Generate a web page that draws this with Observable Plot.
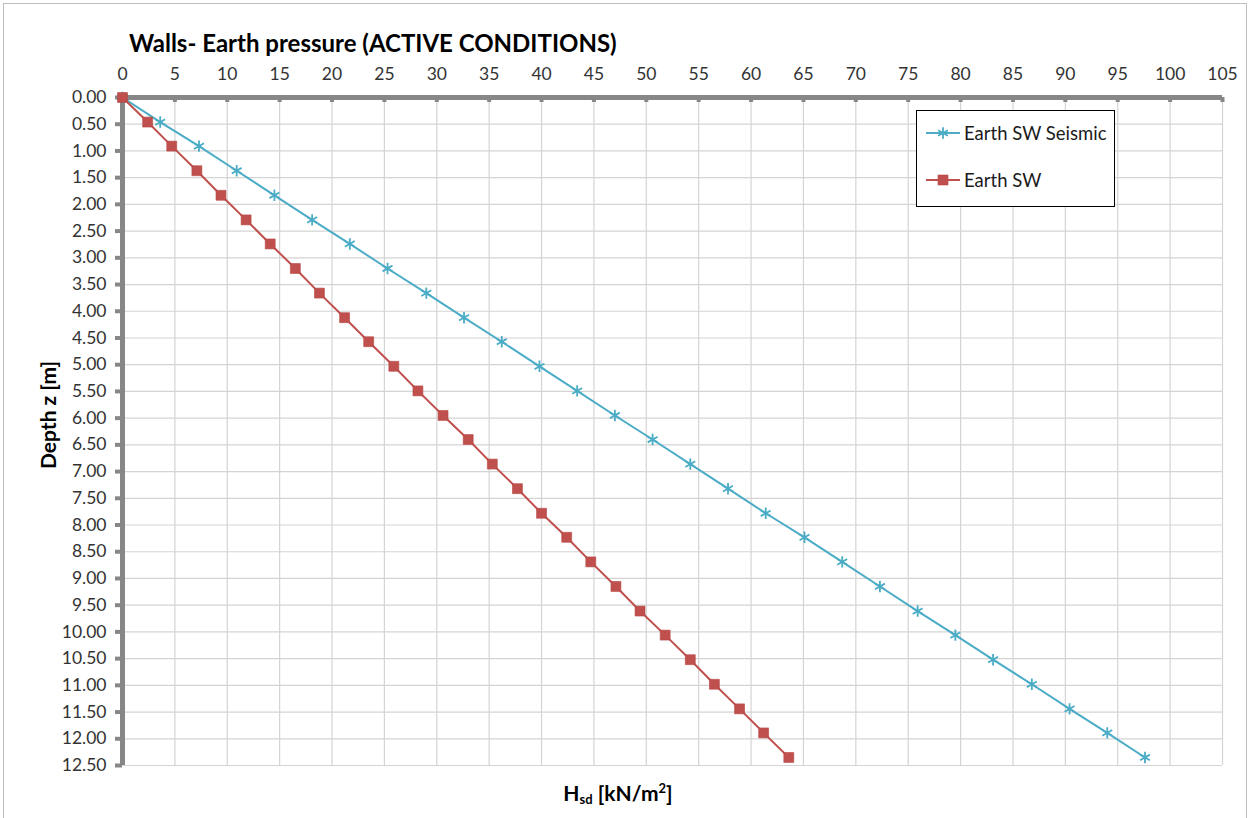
<!DOCTYPE html>
<html>
<head>
<meta charset="utf-8">
<script src="https://cdn.jsdelivr.net/npm/d3@7"></script>
<script src="https://cdn.jsdelivr.net/npm/@observablehq/plot@0.6"></script>
<style>
  body { margin: 0; background: #fff; }
  #wrap { position: relative; width: 1250px; height: 818px; overflow: hidden; font-family: Lato, "Open Sans", sans-serif; }
  #frame { position: absolute; left: 3px; top: 3px; width: 1244px; height: 840px; border: 1.5px solid #bdbdbd; box-sizing: border-box; }
  #chart { position: absolute; left: 0; top: 0; }
  #title { position: absolute; left: 129px; top: 28px; font-size: 24px; font-weight: bold; color: #000; white-space: nowrap; }
  #ylabel { position: absolute; left: 47px; top: 415px; transform: translate(-50%, -50%) rotate(-90deg); font-size: 21px; font-weight: bold; color: #000; white-space: nowrap; }
  #xlabel { position: absolute; left: 618px; top: 793px; transform: translate(-50%, -50%); font-size: 21px; font-weight: bold; color: #000; white-space: nowrap; }
  #xlabel sub { font-size: 13px; vertical-align: -3px; }
  #xlabel sup { font-size: 13px; vertical-align: 8px; line-height: 0; }
  #legend { position: absolute; left: 916px; top: 110px; width: 199px; height: 97px; border: 1.5px solid #000; background: #fff; box-sizing: border-box; }
  .entry { position: absolute; left: 9px; display: flex; align-items: center; font-size: 18.5px; color: #1a1a1a; white-space: nowrap; }
  .entry svg { margin-right: 4px; }
</style>
</head>
<body>
<div id="wrap">
  <div id="frame"></div>
  <div id="chart"></div>
  <div id="title">Walls- Earth pressure (ACTIVE CONDITIONS)</div>
  <div id="ylabel">Depth z [m]</div>
  <div id="xlabel">H<sub>sd</sub> [kN/m<sup>2</sup>]</div>
  <div id="legend"></div>
</div>
<script>
// Depth below top of wall [m]
const depth = [0.00, 0.46, 0.91, 1.37, 1.83, 2.29, 2.74, 3.20, 3.66, 4.12, 4.57, 5.03, 5.49, 5.95,
               6.40, 6.86, 7.32, 7.78, 8.23, 8.69, 9.15, 9.61, 10.06, 10.52, 10.98, 11.44, 11.89, 12.35];

// Horizontal earth pressure, static [kN/m²]
const earthSW = [0, 2.4, 4.7, 7.1, 9.4, 11.8, 14.1, 16.5, 18.8, 21.2, 23.5, 25.9, 28.2, 30.6,
                 33.0, 35.3, 37.7, 40.0, 42.4, 44.7, 47.1, 49.4, 51.8, 54.2, 56.5, 58.9, 61.2, 63.6];

// Horizontal earth pressure, seismic [kN/m²]
const earthSWSeismic = [0, 3.6, 7.3, 10.9, 14.5, 18.1, 21.7, 25.3, 29.0, 32.6, 36.2, 39.8, 43.4, 47.0,
                        50.6, 54.2, 57.8, 61.4, 65.1, 68.7, 72.3, 75.9, 79.5, 83.1, 86.8, 90.4, 94.0, 97.6];

const seriesNames = ["Earth SW Seismic", "Earth SW"];
const seriesColors = ["#4BACC6", "#C0504D"];

const xTicks = [0, 5, 10, 15, 20, 25, 30, 35, 40, 45, 50, 55, 60, 65, 70, 75, 80, 85, 90, 95, 100, 105];
const yTicks = [0, 0.5, 1, 1.5, 2, 2.5, 3, 3.5, 4, 4.5, 5, 5.5, 6, 6.5, 7, 7.5, 8, 8.5, 9, 9.5,
                10, 10.5, 11, 11.5, 12, 12.5];

const rows = depth.map((z, i) => ({ z, sw: earthSW[i], sws: earthSWSeismic[i] }));
const axisGray = "#878787";

const chart = Plot.plot({
  width: 1250,
  height: 818,
  marginLeft: 122,
  marginRight: 28,
  marginTop: 97,
  marginBottom: 53,
  style: { fontFamily: "Lato, 'Open Sans', sans-serif", fontSize: "17px", color: "#333", background: "transparent", overflow: "visible" },
  x: { domain: [0, 105], axis: null },
  y: { domain: [0, 12.5], reverse: true, axis: null },
  marks: [
    Plot.gridX(xTicks, { stroke: "#d4d4d4", strokeOpacity: 1, strokeWidth: 1.2 }),
    Plot.gridY(yTicks, { stroke: "#d4d4d4", strokeOpacity: 1, strokeWidth: 1.2 }),
    Plot.axisX(xTicks, { anchor: "top", tickSize: 0, tickPadding: 18, label: null, fontSize: 17.5 }),
    Plot.axisY(yTicks, { anchor: "left", tickSize: 0, tickPadding: 16, label: null, fontSize: 17.5, tickFormat: d3.format(".2f") }),
    // tick stubs on the axis lines
    Plot.ruleX(xTicks, { y1: 0, y2: 0, insetBottom: -5, stroke: axisGray, strokeWidth: 4 }),
    Plot.ruleY(yTicks, { x1: 0, x2: 0, insetLeft: -7, stroke: axisGray, strokeWidth: 4 }),
    // axis lines
    Plot.ruleY([0], { x1: 0, x2: 105, stroke: axisGray, strokeWidth: 5 }),
    Plot.ruleX([0], { y1: 0, y2: 12.5, stroke: axisGray, strokeWidth: 5 }),
    // seismic series
    Plot.line(rows, { x: "sws", y: "z", stroke: seriesColors[0], strokeWidth: 2 }),
    Plot.dot(rows, { x: "sws", y: "z", symbol: "asterisk", stroke: seriesColors[0], r: 5.4, strokeWidth: 1.8 }),
    // static series
    Plot.line(rows, { x: "sw", y: "z", stroke: seriesColors[1], strokeWidth: 2 }),
    Plot.dot(rows, { x: "sw", y: "z", symbol: "square", fill: seriesColors[1], stroke: "#b54744", strokeWidth: 0.6, r: 5.6 })
  ]
});
document.getElementById("chart").append(chart);

// legend
const legend = document.getElementById("legend");
const symbols = [d3.symbolAsterisk, d3.symbolSquare];
const sizes = [90, 100];
seriesNames.forEach((name, i) => {
  const row = document.createElement("div");
  row.className = "entry";
  row.style.top = (i === 0 ? 11 : 58) + "px";
  const svg = d3.create("svg").attr("width", 34).attr("height", 14);
  svg.append("line").attr("x1", 0).attr("x2", 34).attr("y1", 7).attr("y2", 7)
     .attr("stroke", seriesColors[i]).attr("stroke-width", 2);
  svg.append("path").attr("transform", "translate(17,7)")
     .attr("d", d3.symbol(symbols[i], sizes[i])())
     .attr("fill", i === 1 ? seriesColors[i] : "none")
     .attr("stroke", i === 1 ? "#b54744" : seriesColors[i])
     .attr("stroke-width", i === 1 ? 0.6 : 1.8);
  row.append(svg.node());
  const label = document.createElement("span");
  label.textContent = name;
  row.append(label);
  legend.append(row);
});
</script>
</body>
</html>
